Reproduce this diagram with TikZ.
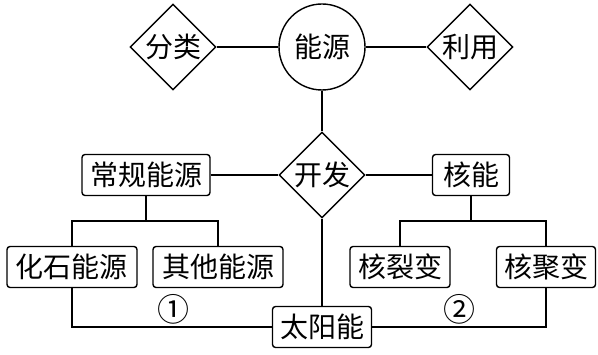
\documentclass[tikz,border=0pt]{standalone}
\usepackage{fontspec}
\setmainfont{Noto Sans CJK SC}
\usetikzlibrary{shapes.geometric,positioning}

\begin{document}
\begin{tikzpicture}[x=1pt, y=1pt,
    box/.style={draw, line width=1.4pt, rounded corners=3pt, minimum height=41pt, inner sep=0pt, font=\fontsize{28}{28}\selectfont},
    choice/.style={draw, line width=1.4pt, diamond, minimum size=86pt, inner sep=0pt, font=\fontsize{28}{28}\selectfont},
    mark label/.style={above=-1pt, font=\fontsize{32}{32}\selectfont},
    link/.style={line width=1.4pt}
]
\useasboundingbox (0,0) rectangle (598,354);

\node[draw, line width=1.4pt, circle, minimum size=86pt, inner sep=0pt, font=\fontsize{28}{28}\selectfont] (source) at (322,307) {能源};
\node[choice] (classify) at (173,307) {分类};
\node[choice] (use) at (470,307) {利用};
\node[choice] (develop) at (322,179) {开发};

\node[box, minimum width=128pt] (conv) at (146,179) {常规能源};
\node[box, minimum width=77pt] (nuclear) at (471,179) {核能};
\node[box, minimum width=130pt] (fossil) at (72,87) {化石能源};
\node[box, minimum width=130pt] (other) at (218,87) {其他能源};
\node[box, minimum width=100pt] (fission) at (400,87) {核裂变};
\node[box, minimum width=99pt] (fusion) at (546,87) {核聚变};
\node[box, minimum width=99pt] (solar) at (322,27) {太阳能};

\coordinate[below=25pt of conv] (convsplit);
\coordinate[below=25pt of nuclear] (nucsplit);

\draw[link] (classify) -- (source);
\draw[link] (source) -- (use);
\draw[link] (source) -- (develop);
\draw[link] (conv) -- (develop);
\draw[link] (develop) -- (nuclear);
\draw[link] (develop) -- (solar);

\draw[link] (conv) -- (convsplit);
\draw[link] (fossil.north) |- (convsplit) -| (other.north);
\draw[link] (nuclear) -- (nucsplit);
\draw[link] (fission.north) |- (nucsplit) -| (fusion.north);

\draw[link] (fossil.south) |- (solar.west) node[pos=0.755, mark label] (one) {①};
\draw[link] (fusion.south) |- (solar.east) node[pos=0.75, mark label] (two) {②};
\end{tikzpicture}
\end{document}
